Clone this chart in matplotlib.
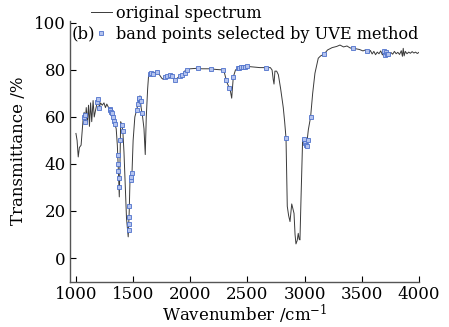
import matplotlib
matplotlib.use("Agg")
import matplotlib.pyplot as plt
import numpy as np

plt.rcParams["font.family"] = ["DejaVu Serif"]
plt.rcParams["mathtext.fontset"] = "dejavuserif"

# FT-IR spectrum (wavenumber cm^-1, transmittance %)
wavenumber = [
    1000, 1010, 1020, 1030, 1045, 1064, 1072, 1080, 1090, 1100, 1110, 1118, 1128, 1138,
    1150, 1160, 1172, 1185, 1195, 1205, 1215, 1230, 1245, 1258, 1270, 1285, 1300, 1315,
    1330, 1340, 1352, 1362, 1372, 1379, 1385, 1391, 1400, 1410, 1420, 1432, 1442, 1457,
    1466, 1472, 1482, 1490, 1500, 1515, 1531, 1545, 1560, 1570, 1583, 1595, 1606, 1615,
    1627, 1635, 1650, 1670, 1690, 1714, 1730, 1750, 1764, 1780, 1800, 1822, 1840, 1866,
    1885, 1910, 1938, 1950, 1968, 2000, 2055, 2100, 2172, 2230, 2288, 2300, 2318, 2335,
    2347, 2362, 2376, 2395, 2420, 2450, 2500, 2560, 2609, 2662, 2700, 2715, 2725, 2732,
    2740, 2755, 2770, 2790, 2813, 2825, 2837, 2843, 2848, 2860, 2872, 2887, 2897, 2907,
    2916, 2924, 2935, 2944, 2952, 2959, 2968, 2982, 2995, 3005, 3015, 3022, 3032, 3052,
    3070, 3090, 3119, 3140, 3169, 3200, 3240, 3280, 3309, 3340, 3370, 3400, 3423, 3450,
    3480, 3510, 3530, 3542, 3560, 3575, 3590, 3605, 3620, 3635, 3650, 3665, 3680, 3695,
    3710, 3725, 3740, 3755, 3770, 3785, 3800, 3815, 3830, 3845, 3855, 3862, 3870, 3880,
    3895, 3910, 3925, 3940, 3955, 3970, 3985, 4000,
]
transmittance = [
    53, 50, 43, 47, 48, 60, 62, 57, 64, 58, 65, 56, 66, 58,
    67, 60, 63, 66, 67.5, 64, 66, 65, 66, 64, 65.5, 64, 63, 61,
    59, 57, 55, 48, 36, 26, 40, 58, 57, 54, 45, 30, 17, 9,
    20, 32, 34, 36, 50, 60, 63, 66, 69, 64, 60, 55, 44, 60,
    72, 77.5, 78.5, 78, 79, 79.5, 78, 76.5, 76, 77, 77.5, 78, 77, 75.7,
    76.5, 77.5, 78, 79.5, 80, 80.5, 80.7, 80.5, 80.5, 80.2, 80, 78.5, 75, 73,
    72, 68, 77, 80, 80.7, 81.2, 81.5, 81.2, 81, 81, 81, 80, 76, 74,
    79.5, 79.5, 78, 72, 64, 58, 51, 35, 22, 18, 15.5, 23, 21, 19,
    10, 6, 7.5, 10.5, 8, 7.7, 25, 50, 51, 49, 47, 50, 54.5, 60,
    70, 78.6, 85, 86, 86.7, 88.5, 89.5, 90, 90.6, 89.8, 90.2, 89.3, 89.6, 89,
    88.7, 88.1, 88.5, 88, 87.2, 88.3, 86.8, 87.9, 86.5, 87.6, 86.9, 88.1, 86.4, 88.0,
    86.2, 87.7, 86.8, 87.4, 86.7, 87.9, 86.9, 87.5, 86.6, 88.2, 85.8, 89.2, 86.0, 87.9,
    86.9, 87.6, 87.1, 87.8, 87.2, 87.6, 87.0, 87.5,
]

# band points selected by UVE
uve_wavenumber = [
    1068, 1075, 1082, 1188, 1195, 1205, 1295, 1302, 1310, 1318, 1325, 1332, 1338,
    1364, 1367, 1370, 1373, 1376, 1388, 1402, 1410, 1461, 1463, 1465, 1468, 1478,
    1484, 1490, 1530, 1540, 1548, 1555, 1565, 1578, 1647, 1660, 1672, 1711, 1780,
    1800, 1822, 1836, 1866, 1910, 1930, 1953, 1973, 2070, 2177, 2282, 2312, 2341,
    2376, 2417, 2430, 2445, 2460, 2480, 2495, 2662, 2837, 2998, 3005, 3012, 3018,
    3025, 3052, 3169, 3425, 3542, 3695, 3705, 3712, 3720, 3730,
]
uve_transmittance = [
    60, 61, 58, 66.5, 67.5, 64, 63.5, 62.8, 62.3, 61.5, 60, 58.4, 57.2,
    44, 40, 37, 34, 30, 50, 56.7, 54, 12, 14.5, 17.5, 22, 33,
    34.5, 36, 62.8, 65.5, 67.5, 68.2, 67, 61.5, 78.3, 78.5, 78.3, 79.3, 76.8,
    77.5, 78, 77.6, 75.7, 77.5, 77.8, 78.6, 80, 80.7, 80.5, 80.1, 75.8, 72.2,
    77, 80.7, 80.9, 81.1, 81.2, 81.4, 81.5, 81, 51, 50.7, 49, 48, 47.8,
    50, 60, 86.7, 89.5, 88, 88, 86.5, 87.5, 87, 86.7,
]

x_ticks = [1000, 1500, 2000, 2500, 3000, 3500, 4000]
y_ticks = [0, 20, 40, 60, 80, 100]

fig = plt.figure(figsize=(4.49, 3.27), dpi=100)
ax = fig.add_axes([0.1559, 0.1391, 0.7773, 0.7979])

ax.plot(wavenumber, transmittance, color="#3a3a3a", linewidth=0.7,
        label="original spectrum")
ax.plot(uve_wavenumber, uve_transmittance, linestyle="none", marker="s",
        markersize=2.8, markerfacecolor="#b4c3ee", markeredgecolor="#4f72cc",
        markeredgewidth=0.6, label="band points selected by UVE method")

ax.set_xlim(948, 4000)
ax.set_ylim(-10, 101)
ax.set_xticks(x_ticks)
ax.set_yticks(y_ticks)
ax.tick_params(direction="in", length=4, width=0.8, labelsize=12, pad=3)

for side in ("top", "right"):
    ax.spines[side].set_visible(False)
for side in ("left", "bottom"):
    ax.spines[side].set_linewidth(1.0)
    ax.spines[side].set_color("#555555")

ax.set_xlabel("Wavenumber /cm$^{-1}$", fontsize=12, labelpad=0)
ax.set_ylabel("Transmittance /%", fontsize=12, labelpad=5)
ax.text(0.006, 0.949, "(b)", transform=ax.transAxes, fontsize=12,
        ha="left", va="center")

ax.legend(loc="upper left", bbox_to_anchor=(0.202, 0.986),
          bbox_transform=fig.transFigure, frameon=False, fontsize=11.6,
          handlelength=1.3, handletextpad=0.3, labelspacing=0.28,
          borderpad=0.0, borderaxespad=0.0, numpoints=1)

fig.savefig("out.png", dpi=100)
